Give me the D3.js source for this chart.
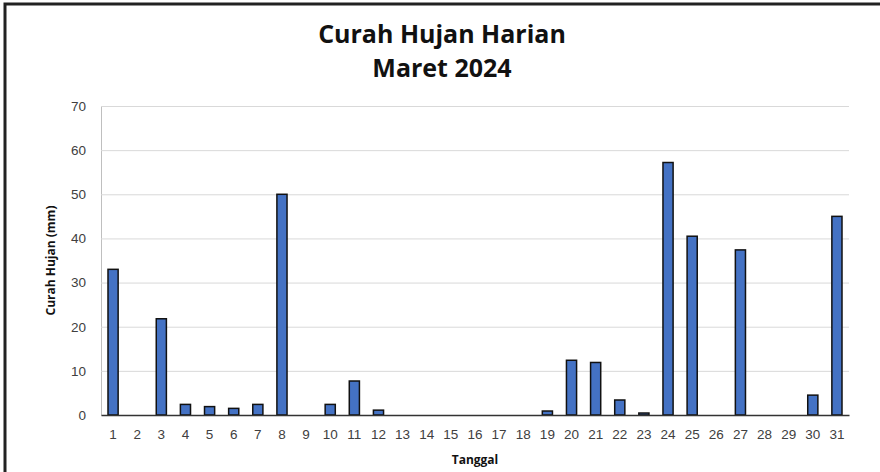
<!DOCTYPE html>
<html>
<head>
<meta charset="utf-8">
<script src="https://cdn.jsdelivr.net/npm/d3@7"></script>
<style>
  body { margin: 0; background: #fff; }
  svg { display: block; font-family: "Open Sans", sans-serif; }
</style>
</head>
<body>
<div id="chart"></div>
<script>
// daily rainfall, March 2024
const days = d3.range(1, 32).map(String);
const rainfall = [33, 0, 21.8, 2.4, 1.9, 1.5, 2.4, 50, 0, 2.4, 7.7, 1.1, 0, 0, 0, 0, 0, 0, 0.9, 12.4,
                  11.9, 3.4, 0.45, 57.2, 40.5, 0, 37.4, 0, 0, 4.5, 45];
const yTicks = [0, 10, 20, 30, 40, 50, 60, 70];
const titleLines = ["Curah Hujan Harian", "Maret 2024"];

const width = 880, height = 472;
const margin = {top: 106, right: 31, bottom: 57, left: 101};

const svg = d3.select("#chart").append("svg")
	.attr("width", width)
	.attr("height", height);

// outer frame (only top and left edges are visible in the original)
svg.append("path")
	.attr("d", `M5,${height} V4 H${width}`)
	.attr("fill", "none")
	.attr("stroke", "#222")
	.attr("stroke-width", 3);

const x = d3.scaleBand()
	.domain(days)
	.range([margin.left, width - margin.right])
	.paddingInner(0.58)
	.paddingOuter(0.29);

const y = d3.scaleLinear()
	.domain([0, 70])
	.range([height - margin.bottom, margin.top]);

// gridlines + y labels
const yAxis = g => g
	.attr("transform", `translate(${margin.left},0)`)
	.call(d3.axisLeft(y).tickValues(yTicks).tickSize(-(width - margin.left - margin.right)).tickPadding(15))
	.call(g => g.select(".domain").attr("stroke", "#bfbfbf"))
	.call(g => g.selectAll(".tick line").attr("stroke", "#d9d9d9"))
	.call(g => g.selectAll(".tick text").attr("fill", "#404040").attr("font-size", 13.5));

svg.append("g").attr("class", "y axis").call(yAxis);

// bars
svg.append("g")
	.selectAll("rect")
	.data(rainfall)
	.join("rect")
	.attr("x", (d, i) => x(days[i]))
	.attr("y", d => y(d))
	.attr("width", x.bandwidth())
	.attr("height", d => y(0) - y(d))
	.attr("fill", "#4472c4")
	.attr("stroke", d => d > 0 ? "#111" : "none")
	.attr("stroke-width", 1.5);

const xAxis = g => g
	.attr("transform", `translate(0,${height - margin.bottom})`)
	.call(d3.axisBottom(x).tickSize(0).tickPadding(14))
	.call(g => g.select(".domain").attr("stroke", "#333").attr("stroke-width", 1.3))
	.call(g => g.selectAll(".tick text").attr("fill", "#404040").attr("font-size", 13.5));

svg.append("g").attr("class", "x axis").call(xAxis);

// axis titles
svg.append("text")
	.attr("transform", `translate(55,${(y(0) + y(70)) / 2}) rotate(-90)`)
	.attr("text-anchor", "middle")
	.attr("font-size", 12)
	.attr("font-weight", "bold")
	.attr("fill", "#111")
	.text("Curah Hujan (mm)");

svg.append("text")
	.attr("x", (margin.left + width - margin.right) / 2)
	.attr("y", 464)
	.attr("text-anchor", "middle")
	.attr("font-size", 12)
	.attr("font-weight", "bold")
	.attr("fill", "#111")
	.text("Tanggal");

// title
svg.append("g")
	.selectAll("text")
	.data(titleLines)
	.join("text")
	.attr("x", 442)
	.attr("y", (d, i) => 43 + i * 34)
	.attr("text-anchor", "middle")
	.attr("font-size", 25)
	.attr("font-weight", "bold")
	.attr("fill", "#111")
	.text(d => d);
</script>
</body>
</html>
